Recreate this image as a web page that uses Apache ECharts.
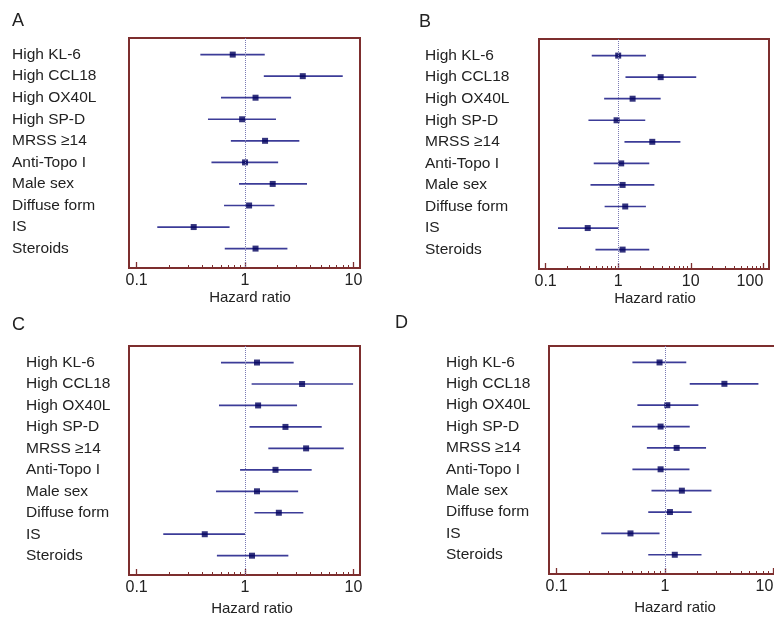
<!DOCTYPE html>
<html><head><meta charset="utf-8">
<script src="https://cdn.jsdelivr.net/npm/echarts@6/dist/echarts.min.js"></script>
<style>html,body{margin:0;padding:0;background:#fff}#c{width:774px;height:618px}</style>
</head><body><div id="c"></div><script>
// ---- data ----
const categories = ['High KL-6','High CCL18','High OX40L','High SP-D','MRSS \u226514','Anti-Topo I','Male sex','Diffuse form','IS','Steroids'];

const hrA = [0.77, 3.41, 1.25, 0.94, 1.53, 1.00, 1.80, 1.09, 0.336, 1.25];
const loA = [0.387, 1.49, 0.60, 0.455, 0.74, 0.49, 0.88, 0.64, 0.155, 0.65];
const hiA = [1.52, 7.97, 2.66, 1.93, 3.17, 2.02, 3.73, 1.87, 0.72, 2.46];

const hrB = [1.00, 3.85, 1.58, 0.95, 2.95, 1.10, 1.15, 1.25, 0.38, 1.15];
const loB = [0.432, 1.26, 0.64, 0.389, 1.22, 0.46, 0.415, 0.65, 0.148, 0.486];
const hiB = [2.41, 11.9, 3.85, 2.36, 7.2, 2.68, 3.15, 2.41, 1.00, 2.68];

const hrC = [1.29, 3.36, 1.32, 2.36, 3.66, 1.91, 1.29, 2.05, 0.425, 1.16];
const loC = [0.60, 1.15, 0.575, 1.10, 1.64, 0.90, 0.54, 1.22, 0.176, 0.55];
const hiC = [2.81, 9.93, 3.02, 5.10, 8.15, 4.12, 3.09, 3.45, 1.00, 2.51];

const hrD = [0.89, 3.53, 1.05, 0.91, 1.28, 0.91, 1.43, 1.11, 0.48, 1.23];
const loD = [0.50, 1.69, 0.556, 0.496, 0.68, 0.50, 0.75, 0.70, 0.258, 0.70];
const hiD = [1.57, 7.27, 2.03, 1.69, 2.39, 1.68, 2.68, 1.76, 0.89, 2.17];

const majorTicks2 = [0.1, 1, 10];
const majorTicks3 = [0.1, 1, 10, 100];
const minorTicks2 = [0.2,0.3,0.4,0.5,0.6,0.7,0.8,0.9,2,3,4,5,6,7,8,9];
const minorTicks3 = [0.2,0.3,0.4,0.5,0.6,0.7,0.8,0.9,2,3,4,5,6,7,8,9,20,30,40,50,60,70,80,90];
const refValue = 1;
const axisTitle = 'Hazard ratio';
const panelLetters = ['A','B','C','D'];

// ---- layout / style ----
const FONT = '"Liberation Sans", Arial, sans-serif';
const BORDER = '#7d2e2e';
const BAR = '#3c3c98';
const DOT = '#00005c';
const TXT = '#222';

const panels = [
  {hr:hrA, lo:loA, hi:hiA, ticks:majorTicks2, minor:minorTicks2, min:0.085, max:11.5,
   left:129, top:38, width:231, height:230, labelX:12, letter:[12,12], nameGap:21, namePad:11, alignMax:null},
  {hr:hrB, lo:loB, hi:hiB, ticks:majorTicks3, minor:minorTicks3, min:0.081, max:119.8,
   left:539, top:39, width:230, height:230, labelX:425, letter:[419,13], nameGap:20, namePad:2, alignMax:'right'},
  {hr:hrC, lo:loC, hi:hiC, ticks:majorTicks2, minor:minorTicks2, min:0.085, max:11.5,
   left:129, top:346, width:231, height:229, labelX:26, letter:[12,316], nameGap:26, namePad:15, alignMax:null},
  {hr:hrD, lo:loD, hi:hiD, ticks:majorTicks2, minor:minorTicks2, min:0.085, max:11.5,
   left:549, top:346, width:231, height:228, labelX:446, letter:[395,314], nameGap:26, namePad:21, alignMax:'right'}
];

const grid = [], xAxis = [], yAxis = [], series = [], graphic = [];
const rowValues = categories.map((c, k) => k + 1);
const fmt = v => String(+(+v).toPrecision(3));

panels.forEach((p, i) => {
  grid.push({left:p.left, top:p.top, width:p.width, height:p.height, show:true,
    borderColor:BORDER, borderWidth:2, backgroundColor:'transparent',
    containLabel:false, outerBoundsMode:'none'});
  const lbl = {show:true, customValues:p.ticks, fontSize:16, color:TXT, margin:5, fontFamily:FONT, formatter:fmt};
  if (p.alignMax) lbl.alignMaxLabel = p.alignMax;
  xAxis.push({type:'log', logBase:10, gridIndex:i, min:p.min, max:p.max, position:'bottom',
    axisLine:{show:false}, splitLine:{show:false}, minorTick:{show:false}, minorSplitLine:{show:false},
    axisTick:{show:true, inside:true, length:6, lineStyle:{color:BORDER, width:1.3}, customValues:p.ticks},
    axisLabel:lbl,
    name:axisTitle, nameLocation:'middle', nameGap:p.nameGap,
    nameTextStyle:{fontSize:15, color:TXT, fontFamily:FONT, padding:[0,0,0,p.namePad]}});
  xAxis.push({type:'log', logBase:10, gridIndex:i, min:p.min, max:p.max, position:'bottom',
    axisLine:{show:false}, splitLine:{show:false}, axisLabel:{show:false},
    axisTick:{show:true, inside:true, length:3, lineStyle:{color:BORDER, width:1}, customValues:p.minor}});
  yAxis.push({type:'value', gridIndex:i, inverse:true, min:0.23, max:10.9,
    axisLine:{show:false}, axisTick:{show:false}, splitLine:{show:false},
    axisLabel:{show:true, customValues:rowValues, align:'left', margin:p.left - p.labelX,
      fontSize:15.5, color:TXT, fontFamily:FONT,
      formatter: v => categories[Math.round(v) - 1] || ''}});

  const barData = categories.map((c, k) => [p.lo[k], p.hi[k], k + 1]);
  const ptData = categories.map((c, k) => [p.hr[k], k + 1]);
  series.push({type:'custom', xAxisIndex:2*i, yAxisIndex:i, z:2, silent:true,
    encode:{x:[0,1], y:2}, data:barData,
    renderItem:(params, api) => {
      const a = api.coord([api.value(0), api.value(2)]);
      const b = api.coord([api.value(1), api.value(2)]);
      return {type:'line', shape:{x1:a[0], y1:a[1], x2:b[0], y2:b[1]},
        style:{stroke:BAR, lineWidth:1.7}};
    }});
  series.push({type:'scatter', xAxisIndex:2*i, yAxisIndex:i, z:3, silent:true,
    symbol:'rect', symbolSize:6, itemStyle:{color:DOT}, data:ptData,
    markLine:{silent:true, symbol:['none','none'], label:{show:false},
      lineStyle:{type:'dotted', color:'#7a7ab4', width:1},
      data:[{xAxis:refValue}]}});
  graphic.push({type:'text', left:p.letter[0], top:p.letter[1],
    style:{text:panelLetters[i], font:'18px ' + FONT, fill:TXT}});
});

const chart = echarts.init(document.getElementById('c'), null, {renderer:'canvas'});
chart.setOption({animation:false, backgroundColor:'#fff', grid, xAxis, yAxis, series, graphic});
</script></body></html>
